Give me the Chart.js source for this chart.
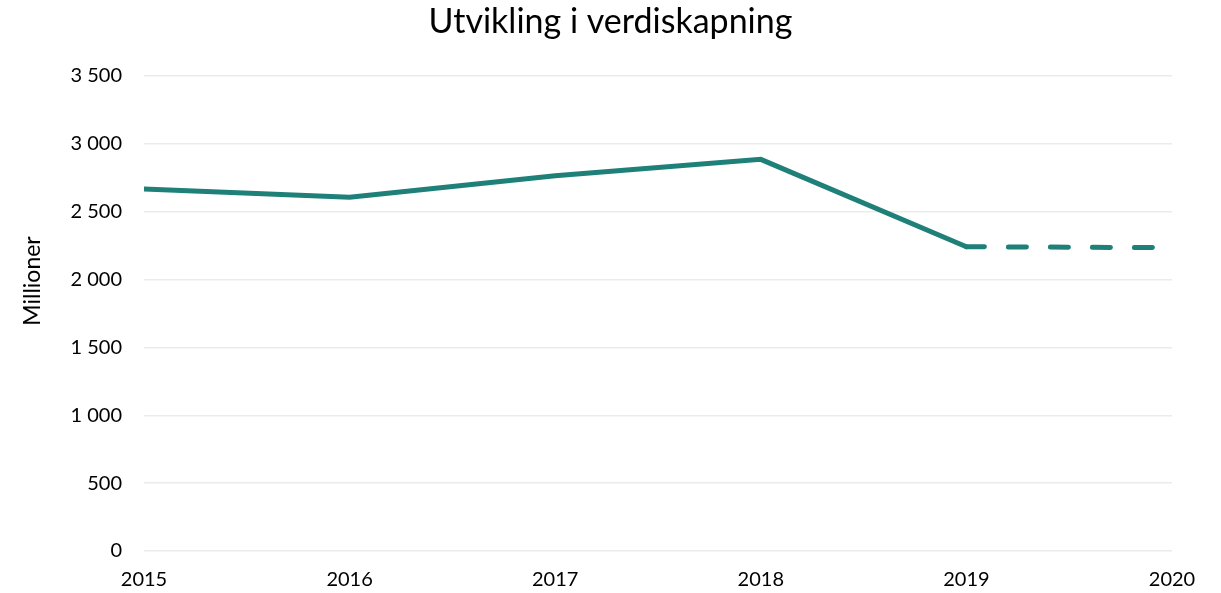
<!DOCTYPE html>
<html>
<head>
<meta charset="utf-8">
<script src="https://cdn.jsdelivr.net/npm/chart.js@4.4.0/dist/chart.umd.min.js"></script>
<style>
  html, body { margin: 0; padding: 0; background: #fff; }
  #wrap { width: 1221px; height: 593px; }
</style>
</head>
<body>
<div id="wrap"><canvas id="c"></canvas></div>
<script>
// data
const years = [2015, 2016, 2017, 2018, 2019, 2020];
const verdiskapning = [2667, 2606, 2765, 2886, 2242, 2235];
const yTicks = [0, 500, 1000, 1500, 2000, 2500, 3000, 3500];

const teal = "#1e8078";
const fontFam = "Lato, 'Open Sans', sans-serif";

function fmt(v) {
  return String(v).replace(/\B(?=(\d{3})+(?!\d))/g, " ");
}

const points = years.map((y, i) => ({ x: y, y: verdiskapning[i] }));

// chart title centred on the whole canvas and the axis title sitting a bit
// above the middle, like the original
const labelsPlugin = {
  id: "labels",
  afterDraw(chart) {
    const ctx = chart.ctx;
    ctx.save();
    ctx.fillStyle = "#000";
    ctx.textAlign = "center";
    ctx.textBaseline = "middle";
    ctx.font = "34px " + fontFam;
    ctx.fillText("Utvikling i verdiskapning", chart.width / 2, 22);
    ctx.translate(33, 281);
    ctx.rotate(-Math.PI / 2);
    ctx.font = "23px " + fontFam;
    ctx.fillText("Millioner", 0, 0);
    ctx.restore();
  }
};

new Chart(document.getElementById("c"), {
  type: "line",
  data: {
    datasets: [{
      data: points,
      borderColor: teal,
      borderWidth: 5,
      pointRadius: 0,
      tension: 0,
      borderCapStyle: "round",
      segment: {
        // last year is a projection -> dashed
        borderDash: ctx => ctx.p1DataIndex === years.length - 1 ? [18, 24] : undefined
      }
    }]
  },
  plugins: [labelsPlugin],
  options: {
    responsive: true,
    maintainAspectRatio: false,
    animation: false,
    layout: { padding: { left: 18, right: 49, top: 76, bottom: 1 } },
    plugins: {
      legend: { display: false },
      tooltip: { enabled: false },
      title: { display: false }
    },
    scales: {
      x: {
        type: "linear",
        min: years[0],
        max: years[years.length - 1],
        grid: { display: false, drawTicks: false },
        border: { display: false },
        afterFit: s => { s.height = 41; },
        ticks: {
          stepSize: 1,
          padding: 17,
          color: "#000",
          font: { family: fontFam, size: 20 },
          callback: v => String(v),
          maxRotation: 0
        }
      },
      y: {
        min: 0,
        max: 3500,
        afterBuildTicks: axis => { axis.ticks = yTicks.map(v => ({ value: v })); },
        afterFit: s => { s.width = 126; },
        grid: { color: "#ebebeb", lineWidth: 1.5, drawTicks: false },
        border: { display: false },
        ticks: {
          padding: 22,
          color: "#000",
          font: { family: fontFam, size: 20 },
          callback: v => fmt(v)
        }
      }
    }
  }
});
</script>
</body>
</html>
